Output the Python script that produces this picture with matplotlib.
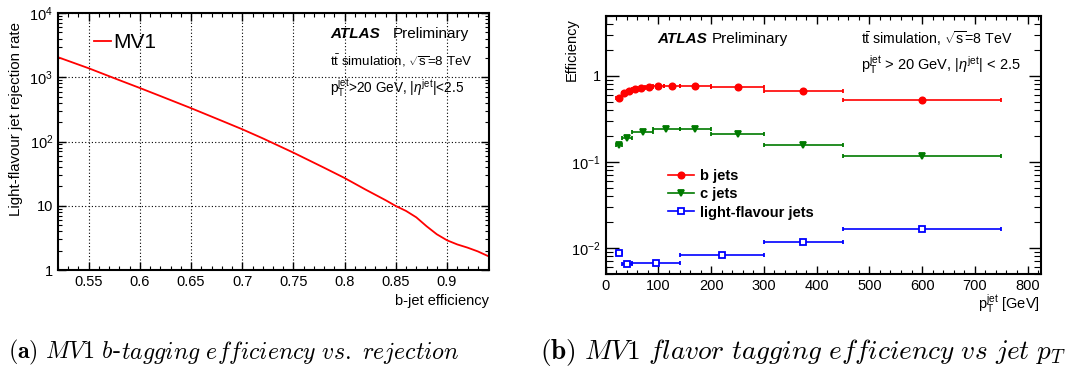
import numpy as np
import matplotlib
matplotlib.use("Agg")
import matplotlib.pyplot as plt
from matplotlib.ticker import MultipleLocator, LogLocator, NullFormatter
from matplotlib.lines import Line2D

plt.rcParams['font.family'] = ['Liberation Sans', 'DejaVu Sans']
plt.rcParams['mathtext.fontset'] = 'custom'
plt.rcParams['mathtext.rm'] = 'Liberation Sans'
plt.rcParams['mathtext.it'] = 'Liberation Sans:italic'
plt.rcParams['mathtext.bf'] = 'Liberation Sans:bold'

# ---------------- data: left panel (MV1 ROC) ----------------
beff = [0.52, 0.55, 0.58, 0.60, 0.62, 0.65, 0.68, 0.70, 0.72, 0.75, 0.78, 0.80,
        0.82, 0.84, 0.85, 0.86, 0.87, 0.88, 0.89, 0.90, 0.91, 0.92, 0.93, 0.94]
light_rej = [2050, 1380, 900, 680, 510, 330, 210, 155, 112, 67, 39, 27,
             18, 12.2, 9.9, 8.3, 6.6, 4.8, 3.6, 2.9, 2.5, 2.23, 1.95, 1.65]

# ---------------- data: right panel (efficiency vs pT) ----------------
b_lo = [20, 30, 40, 50, 60, 75, 90, 110, 140, 200, 300, 450]
b_hi = [30, 40, 50, 60, 75, 90, 110, 140, 200, 300, 450, 750]
b_eff = [0.56, 0.63, 0.675, 0.70, 0.73, 0.75, 0.765, 0.77, 0.77, 0.74, 0.66, 0.52]

c_lo = [20, 30, 50, 90, 140, 200, 300, 450]
c_hi = [30, 50, 90, 140, 200, 300, 450, 750]
c_eff = [0.158, 0.19, 0.221, 0.244, 0.240, 0.213, 0.158, 0.116]

l_lo = [20, 30, 50, 140, 300, 450]
l_hi = [30, 50, 140, 300, 450, 750]
l_eff = [0.00875, 0.0066, 0.0067, 0.0083, 0.0117, 0.0166]

W, H = 1071, 374
fig = plt.figure(figsize=(W / 100, H / 100), dpi=100)

def fx(px):
    return px / W

def fy(py):
    return 1 - py / H

# ---------------- left panel ----------------
ax1 = fig.add_axes([fx(58), fy(270), fx(489 - 58), (270 - 13) / H])
ax1.plot(beff, light_rej, color='red', lw=1.3, label='MV1')
ax1.set_yscale('log')
ax1.set_xlim(0.52, 0.941)
ax1.set_ylim(1, 1e4)
ax1.xaxis.set_minor_locator(MultipleLocator(0.01))
ax1.set_xticks([0.55, 0.6, 0.65, 0.7, 0.75, 0.8, 0.85, 0.9])
ax1.set_xticklabels(['0.55', '0.6', '0.65', '0.7', '0.75', '0.8', '0.85', '0.9'])
ax1.set_yticks([1, 10, 100, 1000, 10000])
ax1.set_yticklabels(['1', '10', r'$10^{2}$', r'$10^{3}$', r'$10^{4}$'])
ax1.yaxis.set_minor_locator(LogLocator(base=10, subs=np.arange(2, 10)))
ax1.yaxis.set_minor_formatter(NullFormatter())
ax1.grid(True, which='major', color='black', ls=(0, (1, 2)), lw=0.8)
ax1.legend(loc='upper left', bbox_to_anchor=(0.065, 0.955), frameon=False, fontsize=15,
           handlelength=0.8, handletextpad=0.12, borderaxespad=0)

fig.text(fx(330), fy(34), 'ATLAS', fontsize=11, fontweight='bold', fontstyle='italic', va='center')
fig.text(fx(393), fy(34), 'Preliminary', fontsize=11, va='center')
fig.text(fx(330), fy(61), r't$\bar{\rm t}$ simulation, $\sqrt{\rm s}$=8 TeV', fontsize=9.6, va='center')
fig.text(fx(330), fy(88), r'$\rm p_{T}^{jet}$>20 GeV, |$\eta^{\rm jet}$|<2.5', fontsize=9.8, va='center')

fig.text(fx(16), fy(22), 'Light-flavour jet rejection rate', rotation=90, ha='center', va='top', fontsize=10.8)
fig.text(fx(489), fy(301), 'b-jet efficiency', ha='right', va='center', fontsize=10.5)

# ---------------- right panel ----------------
ax2 = fig.add_axes([fx(605.7), fy(274), fx(1040.7 - 605.7), (274 - 15.7) / H])

def draw(lo, hi, eff, color, marker, ms, mfc):
    lo = np.array(lo, float)
    hi = np.array(hi, float)
    x = (lo + hi) / 2
    xerr = [x - lo, hi - x]
    ax2.errorbar(x, eff, xerr=xerr, fmt=marker, color=color, ms=ms, mfc=mfc, mec=color,
                 mew=1.3, elinewidth=1.2, capsize=1.5, capthick=1.0)
    return Line2D([], [], color=color, marker=marker, ms=ms, mfc=mfc, mec=color, mew=1.3, lw=1.2)

hb = draw(b_lo, b_hi, b_eff, '#ff0000', 'o', 4.5, '#ff0000')
hc = draw(c_lo, c_hi, c_eff, '#007a00', 'v', 4.5, '#007a00')
hl = draw(l_lo, l_hi, l_eff, '#0000ff', 's', 5.0, 'white')

ax2.set_yscale('log')
ax2.set_xlim(0, 825)
ax2.set_ylim(0.005, 5)
ax2.xaxis.set_major_locator(MultipleLocator(100))
ax2.xaxis.set_minor_locator(MultipleLocator(20))
ax2.set_yticks([0.01, 0.1, 1])
ax2.set_yticklabels([r'$10^{-2}$', r'$10^{-1}$', '1'])
ax2.yaxis.set_minor_locator(LogLocator(base=10, subs=np.arange(2, 10)))
ax2.yaxis.set_minor_formatter(NullFormatter())
ax2.legend([hb, hc, hl], ['b jets', 'c jets', 'light-flavour jets'],
           loc='upper left', bbox_to_anchor=(0.13, 0.43), frameon=False,
           prop={'weight': 'bold', 'size': 10.5}, handlelength=1.8, handletextpad=0.4,
           labelspacing=0.3, borderaxespad=0)

fig.text(fx(657), fy(39), 'ATLAS', fontsize=11, fontweight='bold', fontstyle='italic', va='center')
fig.text(fx(712), fy(39), 'Preliminary', fontsize=11, va='center')
fig.text(fx(861), fy(39), r't$\bar{\rm t}$ simulation, $\sqrt{\rm s}$=8 TeV', fontsize=10.2, va='center')
fig.text(fx(861), fy(65), r'$\rm p_{T}^{jet}$ > 20 GeV, |$\eta^{\rm jet}$| < 2.5', fontsize=10.5, va='center')

fig.text(fx(572), fy(18), 'Efficiency', rotation=90, ha='center', va='top', fontsize=10.5)
fig.text(fx(1040), fy(304), r'$\rm p_{T}^{jet}$ [GeV]', ha='right', va='center', fontsize=10.5)

for ax in (ax1, ax2):
    ax.tick_params(which='both', direction='in', top=True, right=True, labelsize=10.5)
    ax.tick_params(which='major', length=6, width=1.0)
    ax.tick_params(which='minor', length=3, width=0.8)
    for s in ax.spines.values():
        s.set_linewidth(1.5)
ax2.tick_params(axis='y', which='major', length=9)
ax2.tick_params(axis='y', which='minor', length=5)

# ---------------- captions ----------------
CAP_A = 17.2
cap_a = fig.text(fx(8), fy(352), r'$\mathbf{(a)}\ \mathit{MV1\ b}$', fontsize=CAP_A, va='center',
                 math_fontfamily='cm', family='cmr10')
fig.canvas.draw()
bb = cap_a.get_window_extent()
cap_a2 = fig.text(bb.x1 / W, fy(352), '-', fontsize=CAP_A, va='center', family='cmr10')
fig.canvas.draw()
bb2 = cap_a2.get_window_extent()
fig.text(bb2.x1 / W, fy(352), r'$\mathit{tagging\ efficiency\ vs.\ rejection}$', fontsize=CAP_A,
         va='center', math_fontfamily='cm', family='cmr10')
fig.text(fx(540), fy(352), r'$\mathbf{(b)}\ \mathit{MV1\ flavor\ tagging\ efficiency\ vs\ jet\ p_T}$',
         fontsize=19.7, va='center', math_fontfamily='cm')

fig.savefig('out.png', dpi=100)
